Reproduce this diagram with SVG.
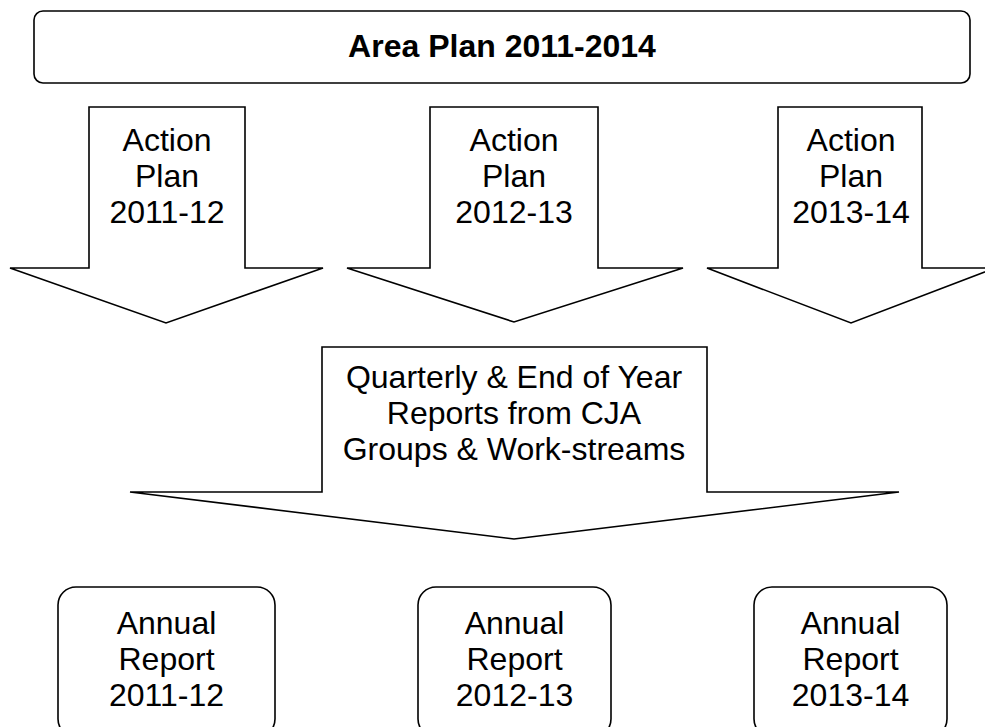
<svg xmlns="http://www.w3.org/2000/svg" width="985" height="727" viewBox="0 0 985 727">
<style>
.s{fill:#fff;stroke:#000;stroke-width:1.6;stroke-linejoin:miter}
.t{font-family:"Liberation Sans",Arial,sans-serif;font-size:32px;fill:#000;text-anchor:middle}
.b{font-weight:bold}
</style>
<rect width="985" height="727" fill="#fff"/>
<g id="area-plan">
<rect class="s" x="34" y="11" width="936" height="72" rx="9" ry="9"/>
<text class="t b" x="502" y="57">Area Plan 2011-2014</text>
</g>
<g id="connectors">
<g id="action-plan-2011-12">
<polygon class="s" points="89,107 245,107 245,268 323,268 166,323 10,268 89,268"/>
<text class="t" x="167" y="151">Action</text>
<text class="t" x="167" y="187">Plan</text>
<text class="t" x="167" y="223">2011-12</text>
</g>
<g id="action-plan-2012-13">
<polygon class="s" points="430,107 598,107 598,268 683,268 514,322 347,268 430,268"/>
<text class="t" x="514" y="151">Action</text>
<text class="t" x="514" y="187">Plan</text>
<text class="t" x="514" y="223">2012-13</text>
</g>
<g id="action-plan-2013-14">
<polygon class="s" points="778,107 922,107 922,268 995,268 851,323 707,268 778,268"/>
<text class="t" x="851" y="151">Action</text>
<text class="t" x="851" y="187">Plan</text>
<text class="t" x="851" y="223">2013-14</text>
</g>
<g id="quarterly-reports">
<polygon class="s" points="322,347 707,347 707,492 899,492 514,539 130,492 322,492"/>
<text class="t" x="514" y="388">Quarterly &amp; End of Year</text>
<text class="t" x="514" y="424">Reports from CJA</text>
<text class="t" x="514" y="460">Groups &amp; Work-streams</text>
</g>
</g>
<g id="annual-report-2011-12">
<rect class="s" x="58" y="587" width="217" height="150" rx="18" ry="18"/>
<text class="t" x="166.5" y="634">Annual</text>
<text class="t" x="166.5" y="670">Report</text>
<text class="t" x="166.5" y="706">2011-12</text>
</g>
<g id="annual-report-2012-13">
<rect class="s" x="418" y="587" width="193" height="150" rx="18" ry="18"/>
<text class="t" x="514.5" y="634">Annual</text>
<text class="t" x="514.5" y="670">Report</text>
<text class="t" x="514.5" y="706">2012-13</text>
</g>
<g id="annual-report-2013-14">
<rect class="s" x="754" y="587" width="193" height="150" rx="18" ry="18"/>
<text class="t" x="850.5" y="634">Annual</text>
<text class="t" x="850.5" y="670">Report</text>
<text class="t" x="850.5" y="706">2013-14</text>
</g>
</svg>
